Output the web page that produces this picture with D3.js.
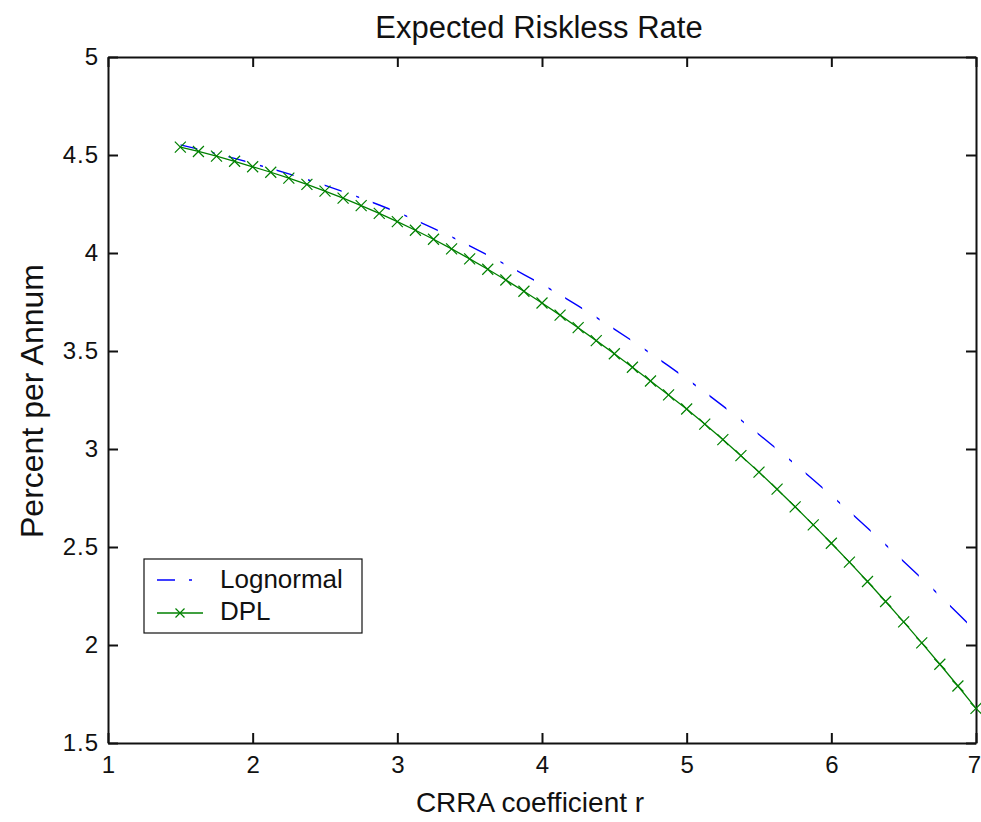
<!DOCTYPE html>
<html>
<head>
<meta charset="utf-8">
<script src="https://cdn.jsdelivr.net/npm/d3@7"></script>
<style>
  body { margin: 0; background: #fff; }
  svg { display: block; }
  text { font-family: "Liberation Sans", Arial, sans-serif; fill: #111; }
</style>
</head>
<body>
<svg id="chart" width="981" height="822"></svg>
<script>
// CRRA coefficient r (x values of both curves)
var rCoef = [1.5, 1.625, 1.75, 1.875, 2, 2.125, 2.25, 2.375, 2.5, 2.625, 2.75, 2.875,
             3, 3.125, 3.25, 3.375, 3.5, 3.625, 3.75, 3.875, 4, 4.125, 4.25, 4.375,
             4.5, 4.625, 4.75, 4.875, 5, 5.125, 5.25, 5.375, 5.5, 5.625, 5.75, 5.875,
             6, 6.125, 6.25, 6.375, 6.5, 6.625, 6.75, 6.875, 7];

// expected riskless rate, percent per annum
var lognormal = [4.552, 4.530, 4.507, 4.483, 4.457, 4.431, 4.404, 4.375, 4.345, 4.313, 4.280, 4.245,
                 4.208, 4.168, 4.126, 4.082, 4.036, 3.989, 3.940, 3.890, 3.840, 3.786, 3.730, 3.672,
                 3.612, 3.551, 3.488, 3.424, 3.358, 3.290, 3.220, 3.148, 3.074, 2.999, 2.922, 2.843,
                 2.763, 2.681, 2.597, 2.512, 2.426, 2.339, 2.251, 2.161, 2.070];

var dpl = [4.540, 4.518, 4.494, 4.468, 4.440, 4.412, 4.382, 4.350, 4.316, 4.280, 4.242, 4.202,
           4.160, 4.116, 4.070, 4.021, 3.970, 3.917, 3.862, 3.805, 3.745, 3.683, 3.619, 3.553,
           3.486, 3.417, 3.347, 3.276, 3.204, 3.127, 3.048, 2.966, 2.882, 2.795, 2.705, 2.613,
           2.519, 2.423, 2.324, 2.222, 2.118, 2.011, 1.902, 1.791, 1.677];

var xTicks = [1, 2, 3, 4, 5, 6, 7];
var yTicks = [1.5, 2, 2.5, 3, 3.5, 4, 4.5, 5];
var seriesNames = ['Lognormal', 'DPL'];

var svg = d3.select('#chart');

var x = d3.scaleLinear().domain([1, 7]).range([108, 976]);
var y = d3.scaleLinear().domain([1.5, 5]).range([743, 57]);

// box axes, ticks pointing in on all four sides
function styleAxis(g) {
    g.select('.domain').attr('stroke', '#111').attr('stroke-width', 2);
    g.selectAll('.tick line').attr('stroke', '#111').attr('stroke-width', 2);
    g.selectAll('.tick text').attr('font-size', 24)
        .attr('fill', '#111').style('font-family', '"Liberation Sans", Arial, sans-serif');
}

var xAxisG = svg.append('g')
    .attr('transform', 'translate(0,743)')
    .call(d3.axisBottom(x).tickValues(xTicks).tickFormat(d3.format('d'))
        .tickSizeInner(-10).tickSizeOuter(0).tickPadding(13))
    .call(styleAxis);
// keep the last label inside the window
xAxisG.selectAll('.tick text').filter(function (d) { return d === 7; }).attr('dx', -2);

svg.append('g')
    .attr('transform', 'translate(108,0)')
    .call(d3.axisLeft(y).tickValues(yTicks).tickFormat(function (d) { return String(d); })
        .tickSizeInner(-10).tickSizeOuter(0).tickPadding(9))
    .call(styleAxis)
    .selectAll('.tick text').attr('letter-spacing', 1);

svg.append('g')
    .attr('transform', 'translate(0,57)')
    .call(d3.axisTop(x).tickValues(xTicks).tickFormat('')
        .tickSizeInner(-10).tickSizeOuter(0))
    .call(styleAxis);

svg.append('g')
    .attr('transform', 'translate(976,0)')
    .call(d3.axisRight(y).tickValues(yTicks).tickFormat('')
        .tickSizeInner(-10).tickSizeOuter(0))
    .call(styleAxis);

var line = d3.line()
    .x(function (d) { return x(d[0]); })
    .y(function (d) { return y(d[1]); });

// dash-dot look of the lognormal curve: vertical bands of dash / dot
var x0 = x(rCoef[0]), x1 = x(rCoef[rCoef.length - 1]);
var clip = svg.append('defs').append('clipPath').attr('id', 'dashdot');
for (var s = x0; s < x1; s += 48.1) {
    clip.append('rect').attr('x', s).attr('y', 0).attr('width', 17).attr('height', 822);
    clip.append('rect').attr('x', s + 31.5).attr('y', 0).attr('width', 3).attr('height', 822);
}

svg.append('path')
    .datum(rCoef.map(function (r, i) { return [r, lognormal[i]]; }))
    .attr('d', line)
    .attr('fill', 'none')
    .attr('stroke', '#0000ff')
    .attr('stroke-width', 1.4)
    .attr('clip-path', 'url(#dashdot)');

var dplPts = rCoef.map(function (r, i) { return [r, dpl[i]]; });

svg.append('path')
    .datum(dplPts)
    .attr('d', line)
    .attr('fill', 'none')
    .attr('stroke', '#008000')
    .attr('stroke-width', 1.3);

var cross = 'M-5.5,-5.5L5.5,5.5M-5.5,5.5L5.5,-5.5';

svg.append('g').selectAll('path')
    .data(dplPts)
    .enter().append('path')
    .attr('transform', function (d) { return 'translate(' + x(d[0]) + ',' + y(d[1]) + ')'; })
    .attr('d', cross)
    .attr('fill', 'none')
    .attr('stroke', '#008000')
    .attr('stroke-width', 1.2);

// legend
var lg = svg.append('g');
lg.append('rect')
    .attr('x', 144).attr('y', 559).attr('width', 218).attr('height', 74)
    .attr('fill', '#fff').attr('stroke', '#111').attr('stroke-width', 1.2);

lg.append('line')
    .attr('x1', 157).attr('x2', 203).attr('y1', 580).attr('y2', 580)
    .attr('stroke', '#0000ff').attr('stroke-width', 1.4)
    .attr('stroke-dasharray', '18,14,3,20');

lg.append('line')
    .attr('x1', 157).attr('x2', 203).attr('y1', 613).attr('y2', 613)
    .attr('stroke', '#008000').attr('stroke-width', 1.3);

lg.append('path')
    .attr('transform', 'translate(180,613)')
    .attr('d', 'M-4.5,-4.5L4.5,4.5M-4.5,4.5L4.5,-4.5')
    .attr('fill', 'none').attr('stroke', '#008000').attr('stroke-width', 1.2);

lg.selectAll('text.leg')
    .data(seriesNames)
    .enter().append('text')
    .attr('class', 'leg')
    .attr('x', 220)
    .attr('y', function (d, i) { return 588 + i * 32; })
    .attr('font-size', 26)
    .text(function (d) { return d; });

// titles
svg.append('text')
    .attr('x', 539).attr('y', 38)
    .attr('text-anchor', 'middle')
    .attr('font-size', 31)
    .text('Expected Riskless Rate');

svg.append('text')
    .attr('x', 530).attr('y', 812)
    .attr('text-anchor', 'middle')
    .attr('font-size', 28)
    .text('CRRA coefficient r');

svg.append('text')
    .attr('transform', 'translate(43,401) rotate(-90)')
    .attr('text-anchor', 'middle')
    .attr('font-size', 32)
    .text('Percent per Annum');
</script>
</body>
</html>
